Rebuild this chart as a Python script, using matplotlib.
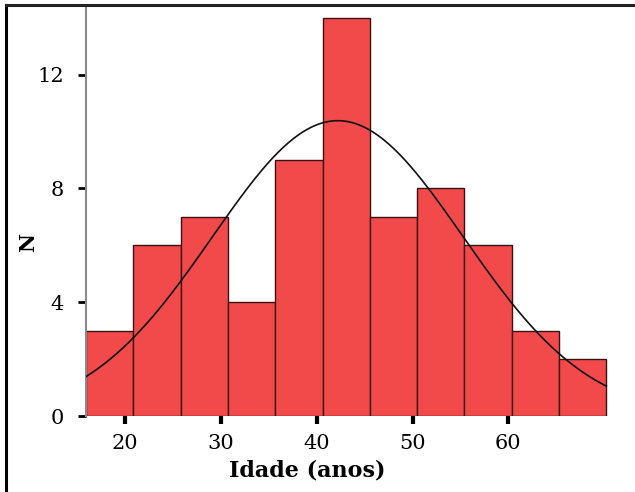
import numpy as np
import matplotlib
matplotlib.use("Agg")
import matplotlib.pyplot as plt
from matplotlib.lines import Line2D

# Data
counts = [3, 6, 7, 4, 9, 14, 7, 8, 6, 3, 2]
bin_start = 15.9
bin_width = 4.94
curve_mean = 42.2
curve_sd = 13.1
xticks = [20, 30, 40, 50, 60]
yticks = [0, 4, 8, 12]
xlabel = "Idade (anos)"
ylabel = "N"

plt.rcParams['font.family'] = ['DejaVu Serif']

fig = plt.figure(figsize=(6.35, 4.92), dpi=100)
ax = fig.add_axes([86/635, 76/492, 544/635, 411/492])

edges = bin_start + bin_width * np.arange(len(counts) + 1)
ax.bar(edges[:-1], counts, width=bin_width, align='edge',
       color='#f24a4a', edgecolor='#3a1212', linewidth=1.0, zorder=2)

n = sum(counts)
xs = np.linspace(edges[0], edges[-1], 300)
ys = n * bin_width * np.exp(-0.5 * ((xs - curve_mean) / curve_sd) ** 2) / (curve_sd * np.sqrt(2 * np.pi))
ax.plot(xs, ys, color='#111111', linewidth=1.2, zorder=3)

ax.set_xlim(edges[0], edges[0] + 544 / 9.575)
ax.set_ylim(0, 411 / 28.45)

for s in ['top', 'right', 'bottom']:
    ax.spines[s].set_visible(False)
ax.spines['left'].set_color('#8a8a8a')
ax.spines['left'].set_linewidth(1.5)

ax.set_xticks(xticks)
ax.set_xticklabels([str(t) for t in xticks])
ax.set_yticks(yticks)
ax.set_yticklabels([str(t) for t in yticks])
ax.tick_params(axis='x', length=6, width=3, pad=7, labelsize=15, color='black')
ax.tick_params(axis='y', length=6, width=2, pad=10, labelsize=15, color='black')

ax.set_xlabel(xlabel, fontsize=16, fontweight='bold')
ax.xaxis.set_label_coords((307 - 86) / 544, -(460 - 416) / 411)
ax.set_ylabel(ylabel, fontsize=15, fontweight='bold')
ax.yaxis.set_label_coords((28 - 86) / 544, (416 - 242) / 411)
ax.yaxis.label.set_va('center')

# partial frame (left and top) around the figure
fig.add_artist(Line2D([6/635, 6/635], [0, 1 - 5/492], transform=fig.transFigure, color='black', linewidth=2.2))
fig.add_artist(Line2D([6/635, 1], [1 - 5/492, 1 - 5/492], transform=fig.transFigure, color='#222222', linewidth=2.2))

fig.savefig("out.png", dpi=100)
